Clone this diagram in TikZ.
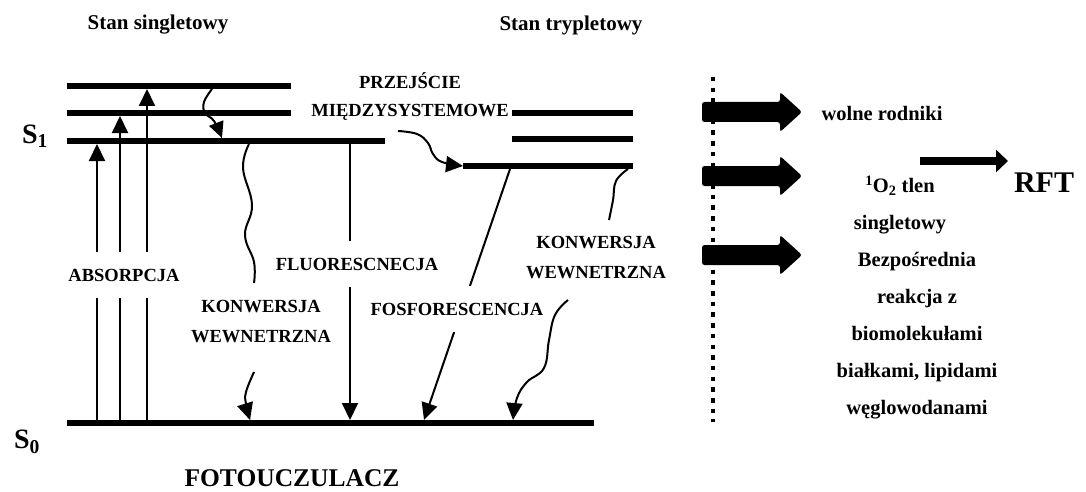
\documentclass[tikz,border=0pt]{standalone}
\usepackage{fontspec}
\setmainfont{Liberation Serif}
\usetikzlibrary{arrows.meta}

\tikzset{
	level/.style={line width=5.5pt},
	thinarrow/.style={line width=2pt, -{Triangle[length=17pt, width=16pt]}},
	wavy/.style={line width=2pt, smooth, tension=0.7},
	label/.style={font=\fontsize{18.5}{30}\selectfont\bfseries, align=center},
	cutlabel/.style={label, fill=white, inner xsep=2pt, inner ysep=17pt},
	sidetext/.style={font=\fontsize{20.5}{37}\selectfont\bfseries, align=center},
	fatarrow/.style={fill=black, rounded corners=2.5pt}
}

\begin{document}
\begin{tikzpicture}[x=1pt, y=-1pt]
	\useasboundingbox (0, 0) rectangle (1086, 492);

	% headings
	\node[font=\fontsize{21}{24}\selectfont\bfseries] (singlet) at (158, 25) {Stan singletowy};
	\node[font=\fontsize{21}{24}\selectfont\bfseries] (triplet) at (571, 25) {Stan trypletowy};

	% energy levels
	\draw[level]	(67, 86) to (291, 86);
	\draw[level]	(67, 113) to (291, 113);
	\draw[level]	(67, 141) to (385, 141);

	\draw[level]	(512, 113) to (633, 113);
	\draw[level]	(512, 139) to (633, 139);
	\draw[level]	(463, 166) to (633, 166);

	\draw[level]	(67, 423) to (594, 423);

	\node[font=\fontsize{28}{30}\selectfont\bfseries] (S1) at (35, 136) {S\textsubscript{1}};
	\node[font=\fontsize{28}{30}\selectfont\bfseries] (S0) at (27, 442) {S\textsubscript{0}};

	% absorption
	\draw[thinarrow]	(97, 420) to (97, 144);
	\draw[thinarrow]	(120, 420) to (120, 116);
	\draw[thinarrow]	(147, 420) to (147, 89);
	\node[cutlabel] (absorp) at (124, 275) {ABSORPCJA};

	% vibrational relaxation
	\draw[wavy, -{Triangle[length=16pt, width=15pt]}]
		plot coordinates {(212, 89) (204, 102) (205, 113) (214, 121) (222, 138)};

	% fluorescence
	\draw[thinarrow]	(350, 144) to (350, 420);
	\node[cutlabel] (fluor) at (357, 264) {FLUORESCNECJA};

	% internal conversion, singlet
	\draw[wavy]	plot coordinates {(249, 144) (243, 168) (252, 205) (245, 235) (254, 262) (254, 283)};
	\draw[wavy, -{Triangle[length=17pt, width=16pt]}]
		plot coordinates {(254, 372) (246, 392) (246, 404) (250, 420)};
	\node[label] (icleft) at (261, 322) {KONWERSJA\\WEWNETRZNA};

	% intersystem crossing
	\node[label] (iscA) at (410, 81) {PRZEJŚCIE};
	\node[label, anchor=east, inner xsep=1pt] (iscB) at (510, 112) {MIĘDZYSYSTEMOWE};
	\draw[wavy, -{Triangle[length=17pt, width=16pt]}]
		plot coordinates {(398, 131) (417, 134) (428, 143) (433, 154) (442, 162) (463, 166)};

	% phosphorescence
	\draw[thinarrow]	(510, 169) to (424, 420);
	\node[cutlabel] (phos) at (457, 309) {FOSFORESCENCJA};

	% internal conversion, triplet
	\draw[wavy]	plot coordinates {(628, 169) (616, 181) (613, 200) (609, 220)};
	\draw[wavy, -{Triangle[length=17pt, width=16pt]}]
		plot coordinates {(568, 300) (555, 315) (549, 340) (544, 368) (527, 382) (517, 398) (513, 420)};
	\node[label] (icright) at (596, 258) {KONWERSJA\\WEWNETRZNA};

	% photodynamic part
	\draw[line width=4.5pt, dash pattern=on 4.5pt off 6.2pt]	(713, 77) to (713, 422);

	\fill[fatarrow]	(702, 102) -- (780, 102) -- (780, 92) -- (802, 112) -- (780, 132) -- (780, 122) -- (702, 122) -- cycle;
	\fill[fatarrow]	(702, 166) -- (780, 166) -- (780, 156) -- (802, 176) -- (780, 196) -- (780, 186) -- (702, 186) -- cycle;
	\fill[fatarrow]	(702, 245) -- (780, 245) -- (780, 235) -- (802, 255) -- (780, 275) -- (780, 265) -- (702, 265) -- cycle;

	\node[sidetext] (radicals) at (882, 113) {wolne rodniki};
	\node[sidetext] (oxygen) at (900, 205) {\textsuperscript{1}O\textsubscript{2} tlen\\singletowy};
	\node[sidetext] (direct) at (917, 336) {Bezpośrednia\\reakcja z\\biomolekułami\\białkami, lipidami\\węglowodanami};

	\draw[line width=8pt, -{Triangle[length=12pt, width=22pt]}]	(920, 161) to (1008, 161);
	\node[font=\fontsize{30}{32}\selectfont\bfseries] (rft) at (1044, 183) {RFT};

	\node[font=\fontsize{25.5}{28}\selectfont\bfseries] (name) at (292, 478) {FOTOUCZULACZ};
\end{tikzpicture}
\end{document}
